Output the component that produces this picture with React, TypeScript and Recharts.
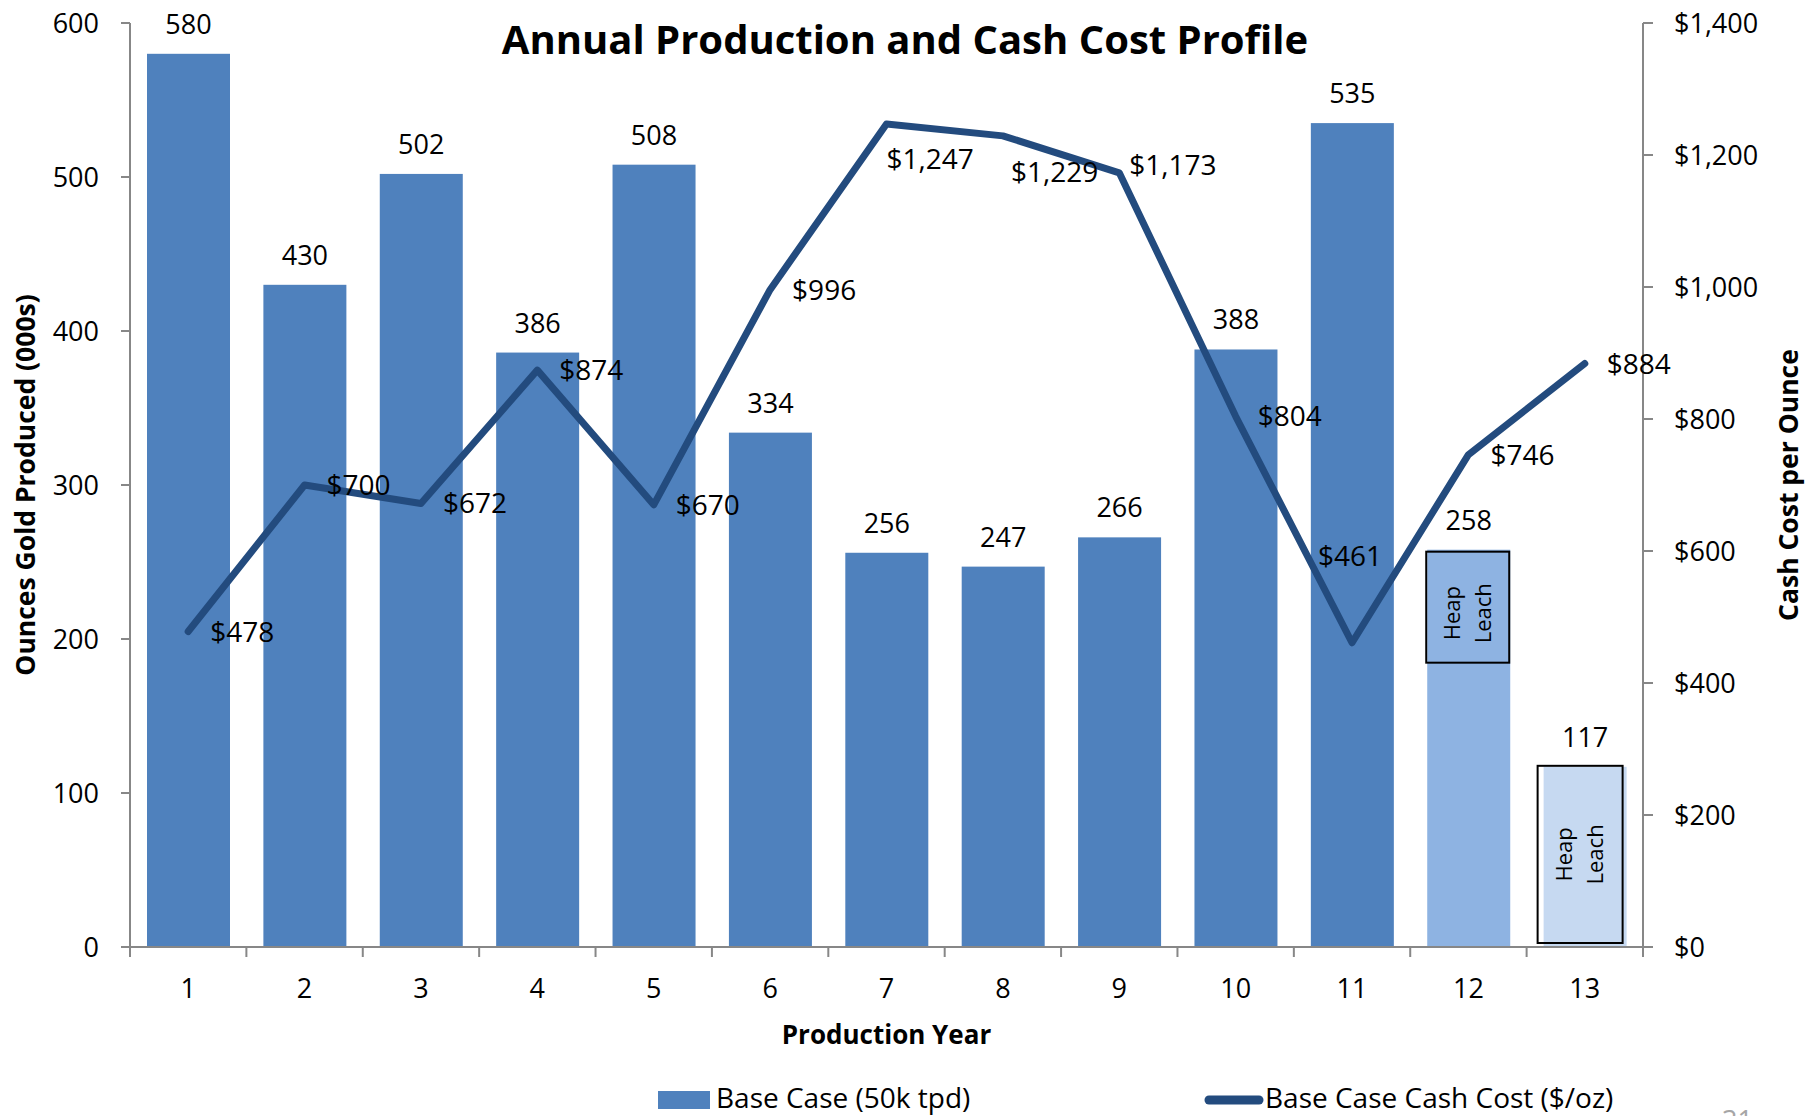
import React from 'react';
import { ComposedChart, Bar, Line, XAxis, YAxis, LabelList, Legend } from 'recharts';

// ---------- data ----------
const years = ['1', '2', '3', '4', '5', '6', '7', '8', '9', '10', '11', '12', '13'];
const ouncesProduced = [580, 430, 502, 386, 508, 334, 256, 247, 266, 388, 535, 258, 117];
const cashCost = [478, 700, 672, 874, 670, 996, 1247, 1229, 1173, 804, 461, 746, 884];
const heapLeachYears = ['12', '13'];
const ozTicks = [0, 100, 200, 300, 400, 500, 600];
const costTicks = [0, 200, 400, 600, 800, 1000, 1200, 1400];

const data = years.map((year, i) => ({ year, oz: ouncesProduced[i], cost: cashCost[i] }));

// ---------- layout / style ----------
const W = 1808;
const H = 1116;
const LEFT_AXIS_W = 130;
const RIGHT_AXIS_W = 165;
const X_AXIS_H = 169;
const TOP = 23;
const PLOT_BOTTOM = H - X_AXIS_H;
const PLOT_W = W - LEFT_AXIS_W - RIGHT_AXIS_W;
const STEP = PLOT_W / years.length;
const FONT = '"Open Sans", "Noto Sans", sans-serif';
const AXIS = '#878787';
const BAR_BASE = '#4F81BD';
const BAR_HEAP_MIX = '#8EB3E2';
const BAR_HEAP = '#C6D9F1';
const LINE_COLOR = '#234B7E';

const fmtMoney = (v: number) => '$' + v.toLocaleString('en-US');

const barFill = (year: string) => (year === '12' ? BAR_HEAP_MIX : year === '13' ? BAR_HEAP : BAR_BASE);

const ProductionBar = (props: any) => {
  const { x, y, width, height, payload } = props;
  const year: string = payload?.year;
  const parts: React.ReactNode[] = [
    <rect key="r" x={x} y={y} width={width} height={height} fill={barFill(year)} />,
  ];
  if (heapLeachYears.includes(year)) {
    let bx: number, by: number, bw: number, bh: number, shift: number;
    if (year === '12') {
      bx = x - 1; by = y + 2; bw = width; bh = 111; shift = 6;
    } else {
      bx = x - 6; by = y - 1; bw = width + 2; bh = height - 3; shift = 0;
    }
    const cx = bx + bw / 2;
    const cy = by + bh / 2 + shift;
    parts.push(
      <rect key="b" x={bx} y={by} width={bw} height={bh} fill="none" stroke="#000" strokeWidth={2} />,
      <text
        key="t"
        transform={`rotate(-90 ${cx} ${cy})`}
        textAnchor="middle"
        fontFamily={FONT}
        fontSize={22}
        fill="#000"
      >
        <tspan x={cx} y={cy - 8}>Heap</tspan>
        <tspan x={cx} y={cy + 23}>Leach</tspan>
      </text>
    );
  }
  return <g>{parts}</g>;
};

const XTick = (props: any) => {
  const { x, payload, index } = props;
  const half = STEP / 2;
  return (
    <g>
      <line x1={x - half} x2={x - half} y1={PLOT_BOTTOM} y2={PLOT_BOTTOM + 10} stroke={AXIS} strokeWidth={2} />
      {index === years.length - 1 && (
        <line x1={x + half} x2={x + half} y1={PLOT_BOTTOM} y2={PLOT_BOTTOM + 10} stroke={AXIS} strokeWidth={2} />
      )}
      <text x={x} y={PLOT_BOTTOM + 51} textAnchor="middle" fontFamily={FONT} fontSize={27} fill="#000">
        {payload.value}
      </text>
    </g>
  );
};

const costLabelOffset: Record<string, { dx: number; dy: number; anchor: 'start' | 'middle' }> = {
  '7': { dx: 0, dy: 35, anchor: 'start' },
  '8': { dx: 8, dy: 36, anchor: 'start' },
  '9': { dx: 10, dy: -8, anchor: 'start' },
  '11': { dx: -2, dy: -87, anchor: 'middle' },
};

const CostLabel = (props: any) => {
  const px = props.x ?? props.viewBox?.x;
  const py = props.y ?? props.viewBox?.y;
  const idx = props.index;
  const year = years[idx];
  const o = costLabelOffset[year] || { dx: 22, dy: 0, anchor: 'start' };
  return (
    <text
      x={px + o.dx}
      y={py + o.dy + 10}
      textAnchor={o.anchor}
      fontFamily={FONT}
      fontSize={28}
      fill="#000"
    >
      {fmtMoney(Number(props.value))}
    </text>
  );
};

const LegendContent = () => (
  <svg width={W} height={40} style={{ display: 'block' }}>
    <rect x={658} y={13} width={52} height={18} fill={BAR_BASE} />
    <text x={716} y={30} fontFamily={FONT} fontSize={28} fill="#000">Base Case (50k tpd)</text>
    <line x1={1209} x2={1259} y1={22} y2={22} stroke={LINE_COLOR} strokeWidth={9} strokeLinecap="round" />
    <text x={1265} y={30} fontFamily={FONT} fontSize={28} fill="#000">Base Case Cash Cost ($/oz)</text>
  </svg>
);

export default function App() {
  return (
    <div style={{ position: 'absolute', left: 0, top: 0, width: W, height: H, overflow: 'hidden', background: '#fff' }}>
      <ComposedChart
        width={W}
        height={H}
        data={data}
        margin={{ top: TOP, right: 0, bottom: 0, left: 0 }}
      >
        <XAxis
          dataKey="year"
          height={X_AXIS_H}
          interval={0}
          tickLine={false}
          axisLine={{ stroke: AXIS, strokeWidth: 2 }}
          tick={<XTick />}
          label={{
            content: (p: any) => {
              const vb = p.viewBox || {};
              return (
                <text
                  x={vb.x + vb.width / 2}
                  y={vb.y + 87 + 9.5}
                  textAnchor="middle"
                  fontFamily={FONT}
                  fontWeight="bold"
                  fontSize={26}
                  fill="#000"
                >
                  Production Year
                </text>
              );
            },
          }}
        />
        <YAxis
          yAxisId="oz"
          width={LEFT_AXIS_W}
          domain={[0, 600]}
          ticks={ozTicks}
          interval={0}
          tickSize={9}
          tickMargin={22}
          axisLine={{ stroke: AXIS, strokeWidth: 2 }}
          tickLine={{ stroke: AXIS, strokeWidth: 2 }}
          tick={{ fill: '#000', fontSize: 27, fontFamily: FONT }}
          label={{
            content: (p: any) => {
              const vb = p.viewBox || {};
              const cx = vb.x + 25;
              const cy = vb.y + vb.height / 2;
              return (
                <text
                  x={cx}
                  y={cy + 9.5}
                  transform={`rotate(-90 ${cx} ${cy})`}
                  textAnchor="middle"
                  fontFamily={FONT}
                  fontWeight="bold"
                  fontSize={26.5}
                  fill="#000"
                >
                  Ounces Gold Produced (000s)
                </text>
              );
            },
          }}
        />
        <YAxis
          yAxisId="cost"
          orientation="right"
          width={RIGHT_AXIS_W}
          domain={[0, 1400]}
          ticks={costTicks}
          interval={0}
          tickSize={10}
          tickMargin={21}
          tickFormatter={fmtMoney}
          axisLine={{ stroke: AXIS, strokeWidth: 2 }}
          tickLine={{ stroke: AXIS, strokeWidth: 2 }}
          tick={{ fill: '#000', fontSize: 27, fontFamily: FONT }}
          label={{
            content: (p: any) => {
              const vb = p.viewBox || {};
              const cx = vb.x + 145;
              const cy = vb.y + vb.height / 2;
              return (
                <text
                  x={cx}
                  y={cy + 9.5}
                  transform={`rotate(-90 ${cx} ${cy})`}
                  textAnchor="middle"
                  fontFamily={FONT}
                  fontWeight="bold"
                  fontSize={26.5}
                  fill="#000"
                >
                  Cash Cost per Ounce
                </text>
              );
            },
          }}
        />
        <Legend
          verticalAlign="middle"
          align="center"
          content={<LegendContent />}
          wrapperStyle={{ position: 'absolute', left: 0, top: 1078, width: W, height: 40 }}
        />
        <Bar
          yAxisId="oz"
          dataKey="oz"
          name="Base Case (50k tpd)"
          barSize={83}
          shape={<ProductionBar />}
          isAnimationActive={false}
        >
          <LabelList
            dataKey="oz"
            position="top"
            offset={20}
            fill="#000"
            fontSize={27}
            fontFamily={FONT}
          />
        </Bar>
        <Line
          yAxisId="cost"
          dataKey="cost"
          name="Base Case Cash Cost ($/oz)"
          type="linear"
          stroke={LINE_COLOR}
          strokeWidth={7}
          strokeLinecap="round"
          strokeLinejoin="round"
          dot={false}
          activeDot={false}
          isAnimationActive={false}
        >
          <LabelList dataKey="cost" content={<CostLabel />} />
        </Line>
      </ComposedChart>
      <svg
        width={W}
        height={H}
        style={{ position: 'absolute', left: 0, top: 0, pointerEvents: 'none' }}
      >
        <text x={905} y={54} textAnchor="middle" fontFamily={FONT} fontWeight="bold" fontSize={40} fill="#000">
          Annual Production and Cash Cost Profile
        </text>
        <text x={1722} y={1130} fontFamily={FONT} fontSize={27} fill="#A6A6A6">31</text>
      </svg>
    </div>
  );
}
